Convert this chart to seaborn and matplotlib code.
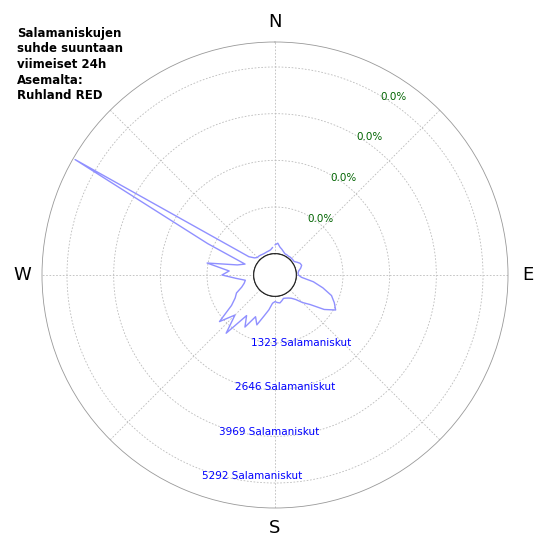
import numpy as np
import matplotlib.pyplot as plt
import seaborn as sns

sns.set_style("white")

# direction (deg, clockwise from north) and strike counts
directions = list(range(0, 360, 5))
counts = [250, 300, 200, 150, 100, 60, 60, 50, 60, 60, 60, 60,
          120, 180, 200, 150, 80, 50, 60, 150, 500, 800, 1100, 1250,
          1380, 1100, 700, 500, 300, 200, 150, 120, 100, 150, 200, 180,
          150, 200, 400, 600, 900, 700, 1100, 800, 1550, 1000, 1450, 900,
          700, 600, 400, 300, 250, 500, 900, 700, 1350, 500, 300, 1500,
          5940, 300, 150, 100, 100, 90, 80, 80, 90, 100, 120, 180]
ring_values = [1323, 2646, 3969, 5292]
title_text = "Salamaniskujen\nsuhde suuntaan\nviimeiset 24h\nAsemalta:\nRuhland RED"

theta = np.deg2rad(directions + [directions[0]])
r = counts + [counts[0]]

fig = plt.figure(figsize=(5.5, 5.5), dpi=100)
ax = fig.add_axes([42 / 550, 42 / 550, 466 / 550, 466 / 550], projection="polar")
ax.set_theta_zero_location("N")
ax.set_theta_direction(-1)
ax.set_ylim(0, 6000)
ax.set_rorigin(-604)

sns.lineplot(x=theta, y=r, ax=ax, color="#9090ff", linewidth=1, sort=False)

ax.set_yticks(ring_values)
ax.set_yticklabels([])
ax.set_xticks(np.deg2rad(range(0, 360, 45)))
ax.set_xticklabels(["N", "", "E", "", "S", "", "W", ""], fontsize=13, color="black")
ax.tick_params(axis="x", pad=4)
ax.grid(True, color="#bbbbbb", linestyle=(0, (2, 2)), linewidth=0.6)
ax.spines["polar"].set_color("#999999")
ax.spines["polar"].set_linewidth(0.6)

# inner circle
circ = np.linspace(0, 2 * np.pi, 200)
ax.plot(circ, np.zeros_like(circ), color="black", linewidth=0.8)

green_pos = [(39.4, 1435), (35.4, 2767), (34.5, 4127), (33.8, 5459)]
blue_pos = [(159, 1465), (175, 2570), (182, 3844), (186.5, 5119)]
for v, (ga, gr), (ba, br) in zip(ring_values, green_pos, blue_pos):
    ax.text(np.deg2rad(ga), gr, "0.0%", color="darkgreen", fontsize=7.5,
            ha="center", va="center")
    ax.text(np.deg2rad(ba), br, f"{v} Salamaniskut", color="blue",
            fontsize=7.5, ha="center", va="center")

fig.text(17 / 550, 1 - 27 / 550, title_text, fontsize=8.5, fontweight="bold",
         va="top", ha="left", linespacing=1.25, color="black")

fig.savefig("out.png", dpi=100)
